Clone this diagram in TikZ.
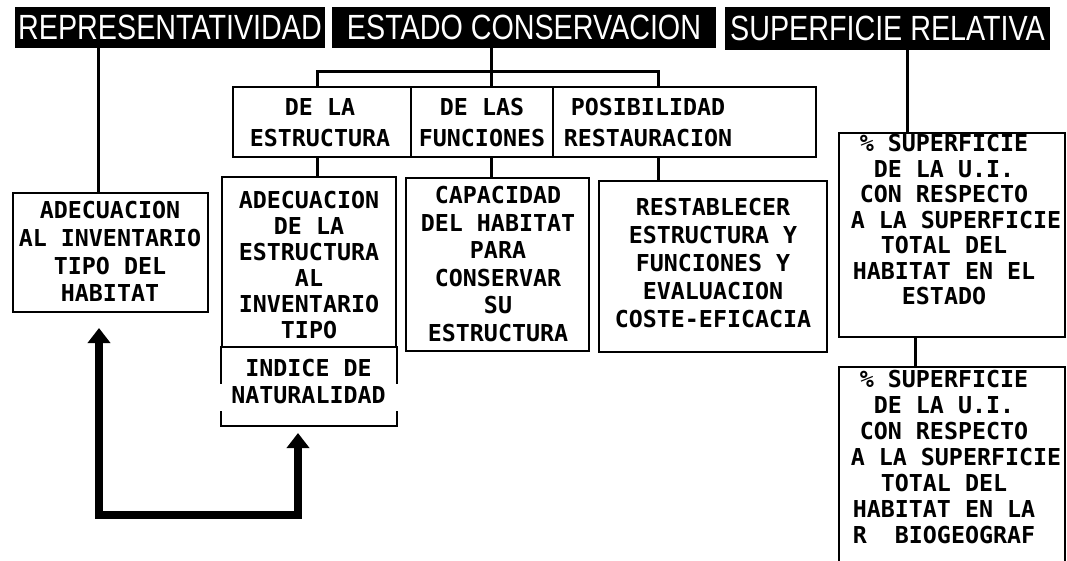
\documentclass[tikz,border=0pt]{standalone}
\usepackage{fontspec}
\usetikzlibrary{arrows.meta}
\newfontfamily\titlefont[FakeStretch=0.82]{Liberation Sans}
\newfontfamily\bodyfont{DejaVu Sans Mono}
\begin{document}
\begin{tikzpicture}[x=1pt,y=-1pt,
  titlebar/.style={fill=black, text=white, inner sep=0pt, font=\titlefont\fontsize{35}{35}\selectfont},
  bx/.style={draw=black, line width=2pt, inner sep=0pt},
  bxline/.style={line width=2pt},
  tx/.style={font=\bodyfont\bfseries\fontsize{23.3}{#1}\selectfont, align=center, inner sep=0pt},
  conn/.style={line width=3pt},
  bigarrow/.style={line width=8pt, line join=miter,
    {Triangle[width=22pt,length=15pt]}-{Triangle[width=22pt,length=15pt]}}
]
\useasboundingbox[fill=white] (0,0) rectangle (1067,560);

% title bars
\node[titlebar, minimum width=310pt, minimum height=41pt] (tR) at (170,27.5) {REPRESENTATIVIDAD};
\node[titlebar, minimum width=384pt, minimum height=41pt] (tE) at (524,27.5) {ESTADO CONSERVACION};
\node[titlebar, minimum width=325pt, minimum height=43pt] (tS) at (887.5,28.5) {SUPERFICIE RELATIVA};

% boxes
\node[bx, minimum width=195pt, minimum height=119pt] (a1) at (110.5,252.5) {};
\node[bx, minimum width=178pt, minimum height=70pt] (m1) at (322,122) {};
\node[bx, minimum width=142pt, minimum height=70pt] (m2) at (482,122) {};
\node[bx, minimum width=263pt, minimum height=70pt] (m3) at (684.5,122) {};
\node[bx, minimum width=174pt, minimum height=170pt] (b1) at (309,262) {};
\node[minimum width=174pt, minimum height=78pt, inner sep=0pt, outer sep=1pt] (b1n) at (309,386) {};
\node[bx, minimum width=183pt, minimum height=173pt] (b2) at (497.5,264.5) {};
\node[bx, minimum width=228pt, minimum height=171pt] (b3) at (713,266.5) {};
\node[bx, minimum width=226pt, minimum height=204pt] (s1) at (952,235) {};
\node[bx, minimum width=226pt, minimum height=208pt] (s2) at (952,471) {};

% open-sided lower part of b1
\draw[bxline] (b1n.north west) -- ++(0,38) (b1n.north east) -- ++(0,38)
  ([yshift=15pt]b1n.south west) -- (b1n.south west) -- (b1n.south east) -- ([yshift=15pt]b1n.south east);

% texts
\node[tx=27.7] (a1t) at (110,251.5) {ADECUACION\\AL INVENTARIO\\TIPO DEL\\HABITAT};
\node[tx=31] (m1t) at (320,122.5) {DE LA\\ESTRUCTURA};
\node[tx=31] (m2t) at (482,122.5) {DE LAS\\FUNCIONES};
\node[tx=31] (m3t) at (648,122.5) {POSIBILIDAD\\RESTAURACION};
\node[tx=26] (b1t) at (309,265) {ADECUACION\\DE LA\\ESTRUCTURA\\AL\\INVENTARIO\\TIPO};
\node[tx=27] (b1nt) at (308.5,381.5) {INDICE DE\\NATURALIDAD};
\node[tx=27.6] (b2t) at (498,264) {CAPACIDAD\\DEL HABITAT\\PARA\\CONSERVAR\\SU\\ESTRUCTURA};
\node[tx=28] (b3t) at (713,263.5) {RESTABLECER\\ESTRUCTURA Y\\FUNCIONES Y\\EVALUACION\\COSTE-EFICACIA};
\node[tx=25.5] (s1t) at (944,220) {\%\ SUPERFICIE\\DE LA U.I.\\CON RESPECTO\\\hspace*{24pt}A LA SUPERFICIE\\TOTAL DEL\\HABITAT EN EL\\ESTADO};
\node[tx=26] (s2t) at (944,457) {\%\ SUPERFICIE\\DE LA U.I.\\CON RESPECTO\\\hspace*{24pt}A LA SUPERFICIE\\TOTAL DEL\\HABITAT EN LA\\R\ \ BIOGEOGRAF};

% connector guide coordinates
\coordinate (xa) at (98,0);
\coordinate (c1) at (317,0);
\coordinate (c2) at (491,0);
\coordinate (c3) at (658,0);
\coordinate (hb) at (0,71);
\coordinate (xs) at (907,0);
\coordinate (xs2) at (915,0);

% connectors
\draw[conn] (tR.south -| xa) -- (a1.north -| xa);
\draw[conn] (tE.south -| c2) -- (m2.north -| c2);
\draw[conn] (m1.north -| c1) -- (c1 |- hb) -- (c3 |- hb) -- (m3.north -| c3);
\draw[conn] (m1.south -| c1) -- (b1.north -| c1);
\draw[conn] (m2.south -| c2) -- (b2.north -| c2);
\draw[conn] (m3.south -| c3) -- (b3.north -| c3);
\draw[conn] (tS.south -| xs) -- (s1.north -| xs);
\draw[conn] (s1.south -| xs2) -- (s2.north -| xs2);

% big double arrow
\coordinate (p1) at (99,328);
\coordinate (p2) at (298,433);
\coordinate (base) at (0,515);
\draw[bigarrow] (p1) -- (p1 |- base) -- (p2 |- base) -- (p2);
\end{tikzpicture}
\end{document}
